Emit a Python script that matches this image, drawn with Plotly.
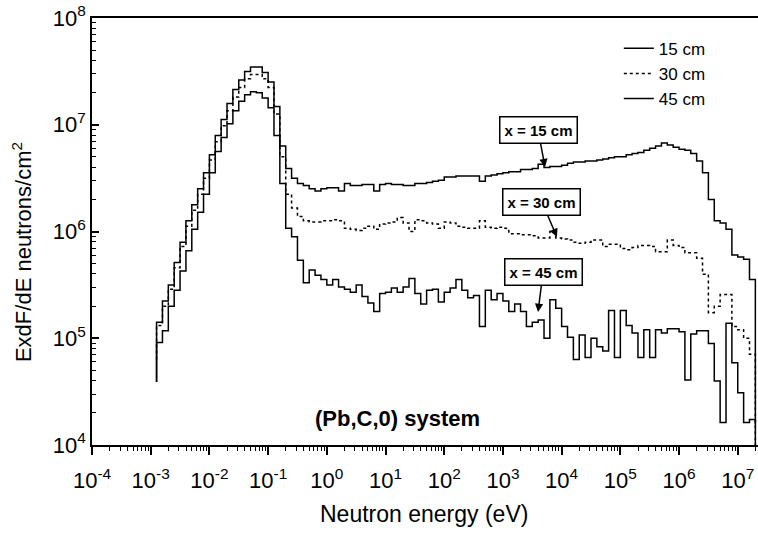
import numpy as np
import plotly.graph_objects as go

# Bin edges (log10 of neutron energy in eV), 10 bins per decade
LOG_EDGES = np.round(np.arange(-2.9, 7.31, 0.1), 2)

# log10(E dF/dE) per bin
flux15_log = [
    5.15, 5.35, 5.50, 5.71, 5.90, 6.10, 6.25, 6.40, 6.55, 6.72,
    6.90, 7.05, 7.20, 7.33, 7.42, 7.50, 7.54, 7.54, 7.49, 7.40,
    7.17, 6.80, 6.59, 6.50, 6.45, 6.43, 6.40, 6.38, 6.40, 6.41,
    6.41, 6.38, 6.45, 6.43, 6.43, 6.44, 6.44, 6.38, 6.44, 6.45,
    6.44, 6.44, 6.43, 6.43, 6.45, 6.45, 6.46, 6.47, 6.48, 6.51,
    6.51, 6.52, 6.52, 6.52, 6.52, 6.47, 6.52, 6.53, 6.54, 6.55,
    6.56, 6.56, 6.58, 6.58, 6.59, 6.63, 6.60, 6.61, 6.61, 6.62,
    6.64, 6.65, 6.65, 6.66, 6.66, 6.67, 6.68, 6.69, 6.70, 6.70,
    6.72, 6.73, 6.74, 6.76, 6.78, 6.80, 6.83, 6.81, 6.79, 6.77,
    6.76, 6.73, 6.66, 6.55, 6.30, 6.10, 6.08, 6.02, 5.78, 5.76,
    5.74, 5.55,
]
flux30_log = [
    5.12, 5.30, 5.46, 5.66, 5.86, 6.05, 6.20, 6.35, 6.50, 6.67,
    6.84, 6.99, 7.13, 7.26, 7.35, 7.43, 7.47, 7.47, 7.43, 7.35,
    7.10, 6.70, 6.35, 6.22, 6.14, 6.10, 6.09, 6.09, 6.10, 6.10,
    6.11, 6.10, 6.03, 6.02, 6.01, 6.03, 6.05, 6.02, 6.07, 6.08,
    6.09, 6.13, 6.08, 6.00, 6.11, 6.10, 6.08, 6.07, 6.03, 6.09,
    6.08, 6.05, 6.04, 6.03, 6.03, 6.10, 6.04, 6.03, 6.04, 6.03,
    5.98, 5.98, 5.97, 5.97, 5.96, 5.94, 5.94, 6.00, 5.94, 5.93,
    5.92, 5.90, 5.89, 5.90, 5.92, 5.92, 5.86, 5.88, 5.88, 5.84,
    5.83, 5.85, 5.87, 5.87, 5.86, 5.81, 5.81, 5.92, 5.87, 5.85,
    5.80, 5.80, 5.75, 5.60, 5.24, 5.30, 5.41, 5.41, 5.11, 5.08,
    5.00, 4.85,
]
flux45_log = [
    4.96, 5.07, 5.30, 5.45, 5.63, 5.82, 6.02, 6.18, 6.35, 6.55,
    6.75, 6.88, 7.01, 7.13, 7.22, 7.28, 7.31, 7.30, 7.25, 7.16,
    6.90, 6.45, 6.03, 5.95, 5.73, 5.52, 5.64, 5.59, 5.55, 5.50,
    5.55, 5.48, 5.46, 5.43, 5.50, 5.39, 5.33, 5.25, 5.42, 5.43,
    5.47, 5.43, 5.48, 5.56, 5.42, 5.32, 5.45, 5.46, 5.34, 5.43,
    5.47, 5.55, 5.45, 5.38, 5.40, 5.11, 5.45, 5.36, 5.42, 5.35,
    5.25, 5.32, 5.25, 5.11, 5.15, 5.17, 5.00, 5.36, 5.28, 5.11,
    5.01, 4.80, 5.03, 4.82, 5.00, 4.92, 4.88, 5.26, 4.82, 5.26,
    5.12, 5.05, 4.82, 5.08, 4.82, 5.08, 5.05, 5.09, 5.09, 5.06,
    4.61, 5.04, 5.07, 5.07, 4.95, 4.60, 4.21, 5.14, 4.77, 4.49,
    4.21, 4.24,
]
# level where each histogram line starts / ends (log10)
start_log = {"15 cm": 4.59, "30 cm": 4.80, "45 cm": 4.59}
end_log = {"15 cm": 4.20, "30 cm": 4.00, "45 cm": 4.00}

series_names = ["15 cm", "30 cm", "45 cm"]
series_data = [flux15_log, flux30_log, flux45_log]
series_dash = ["solid", "dot", "solid"]

x_tick_exp = list(range(-4, 8))
y_tick_exp = list(range(4, 9))

FONT = "Liberation Sans, Arial, sans-serif"

fig = go.Figure()
edges = 10.0 ** LOG_EDGES
for name, vals, dash in zip(series_names, series_data, series_dash):
    v = 10.0 ** np.array(vals)
    xs = [edges[0]] + list(edges[:-1]) + [edges[-1], edges[-1]]
    ys = [10.0 ** start_log[name]] + list(v) + [v[-1], 10.0 ** end_log[name]]
    fig.add_trace(go.Scatter(
        x=xs, y=ys, mode="lines", name=name,
        line=dict(color="black", width=1.5, dash=dash, shape="hv"),
        hoverinfo="skip",
    ))

def minor_vals(lo, hi):
    out = []
    for k in range(lo, hi):
        for m in range(2, 10):
            out.append(m * 10.0 ** k)
    return out

fig.update_xaxes(
    type="log", range=[-4, 7.345],
    tickvals=[10.0 ** k for k in x_tick_exp],
    ticktext=[f"10<sup>{k}</sup>" for k in x_tick_exp],
    ticks="outside", ticklen=8, tickwidth=1.5, tickcolor="black",
    ticklabelstandoff=7,
    showline=True, linewidth=1.5, linecolor="black", mirror=True,
    showgrid=False, zeroline=False,
    tickfont=dict(size=22, family=FONT, color="black"),
    minor=dict(tickvals=minor_vals(-4, 8), ticks="outside", ticklen=4,
               tickwidth=1, tickcolor="black", showgrid=False),
)
fig.update_yaxes(
    type="log", range=[4, 8],
    tickvals=[10.0 ** k for k in y_tick_exp],
    ticktext=[f"10<sup>{k}</sup>" for k in y_tick_exp],
    ticks="inside", ticklen=7, tickwidth=1.5, tickcolor="black",
    showline=True, linewidth=1.5, linecolor="black",
    showgrid=False, zeroline=False,
    tickfont=dict(size=22, family=FONT, color="black"),
    minor=dict(tickvals=minor_vals(4, 8), ticks="inside", ticklen=4,
               tickwidth=1, tickcolor="black", showgrid=False),
)

annos = [
    dict(text="Neutron energy (eV)", xref="paper", yref="paper",
         x=0.4985, y=-0.162, xanchor="center", yanchor="middle",
         showarrow=False, font=dict(size=23, family=FONT, color="black")),
    dict(text="ExdF/dE neutrons/cm<sup>2</sup>", xref="paper", yref="paper",
         x=-0.105, y=0.452, xanchor="center", yanchor="middle",
         textangle=-90, showarrow=False,
         font=dict(size=22, family=FONT, color="black")),
    dict(text="<b>(Pb,C,0) system</b>", xref="paper", yref="paper",
         x=0.458, y=0.063, xanchor="center", yanchor="middle",
         showarrow=False, font=dict(size=22, family=FONT, color="black")),
]
label_specs = [
    ("x = 15 cm", 3.717, 6.604, -7, -37),
    ("x = 30 cm", 3.92, 5.948, -15, -35),
    ("x = 45 cm", 3.598, 5.246, 5, -40),
]
for txt, lx, ly, ax, ay in label_specs:
    annos.append(dict(
        text=f"<b>{txt}</b>", xref="x", yref="y", x=lx, y=ly,
        ax=ax, ay=ay, showarrow=True, arrowhead=2, arrowsize=1.1,
        arrowwidth=1.5, arrowcolor="black",
        bordercolor="black", borderwidth=1.5, borderpad=4,
        bgcolor="white", font=dict(size=15, family=FONT, color="black"),
    ))

fig.update_layout(
    width=758, height=533,
    margin=dict(l=92, r=0, t=18, b=88),
    plot_bgcolor="white", paper_bgcolor="white",
    font=dict(family=FONT, color="black"),
    showlegend=True,
    legend=dict(x=0.791, y=0.97, xanchor="left", yanchor="top",
                bgcolor="rgba(0,0,0,0)", borderwidth=0,
                font=dict(size=17, family=FONT, color="black"),
                itemwidth=30, tracegroupgap=0),
    annotations=annos,
)

fig.write_html("out.html")
